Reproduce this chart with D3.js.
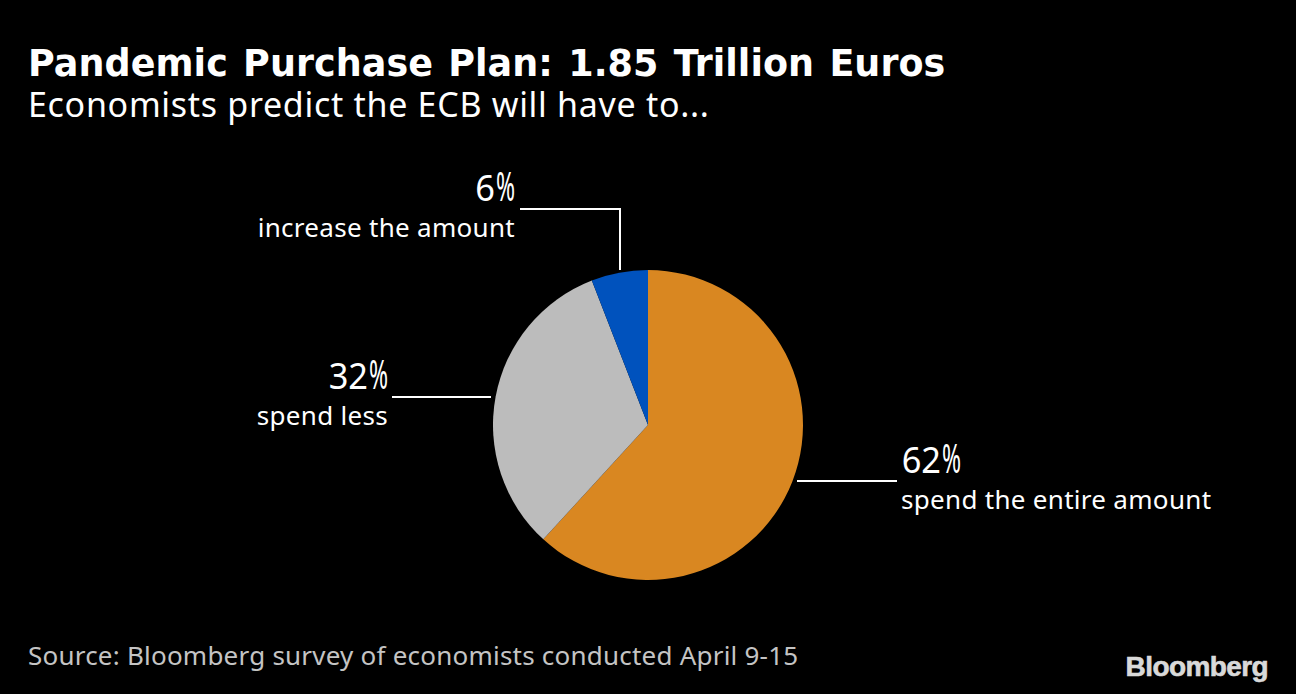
<!doctype html>
<html>
<head>
	<title>Pandemic Purchase Plan</title>
	<script src="https://d3js.org/d3.v7.min.js"></script>
	<style>
	html, body { margin: 0; padding: 0; background: #000; overflow: hidden; }
	text { font-family: "Noto Sans", sans-serif; fill: #fff; }
	.title { font-family: "DejaVu Sans", sans-serif; font-size: 36.5px; font-weight: bold; letter-spacing: 0.05px; word-spacing: 2.5px; }
	.subtitle { font-size: 34px; letter-spacing: 0.7px; }
	.pct { font-size: 37px; }
	.desc { font-size: 26px; letter-spacing: 0.3px; }
	.source { font-size: 26px; letter-spacing: 0.22px; fill: #c4c4c4; }
	.logo { font-size: 28px; font-weight: bold; font-family: "Liberation Sans", sans-serif; fill: #d9d9d9; stroke: #d9d9d9; stroke-width: 0.6px; letter-spacing: -0.6px; }
	.leader { fill: none; stroke: #fff; stroke-width: 2; }
	</style>
</head>
<body>
	<script>

	// chart values, printed labels are rounded
	var labels = ["spend the entire amount", "spend less", "increase the amount"];
	var values = [61.8, 32.3, 5.9];
	var colors = ["#d98721", "#bcbcbc", "#0052bd"];

	var titleText = "Pandemic Purchase Plan: 1.85 Trillion Euros";
	var subtitleText = "Economists predict the ECB will have to...";
	var sourceText = "Source: Bloomberg survey of economists conducted April 9-15";

	var width = 1296;
	var height = 694;
	var cx = 648;
	var cy = 425;
	var radius = 155;

	var svg = d3.select("body").append("svg")
		.attr("width", width)
		.attr("height", height)
		.style("display", "block");

	svg.append("rect").attr("width", width).attr("height", height).attr("fill", "#000");

	// headers
	svg.append("text").attr("class", "title").attr("x", 28).attr("y", 76).text(titleText);
	svg.append("text").attr("class", "subtitle").attr("x", 28).attr("y", 117).text(subtitleText);

	// the pie, clockwise from 12 o'clock in data order
	var pie = d3.pie().sort(null);
	var arc = d3.arc().innerRadius(0).outerRadius(radius);

	svg.append("g")
		.attr("transform", "translate(" + cx + "," + cy + ")")
		.selectAll("path")
		.data(pie(values))
		.enter().append("path")
		.attr("d", arc)
		.attr("fill", function(d, i) { return colors[i]; });

	// label placement, same order as the arrays above
	// pctRight is the right edge of the percent figure
	var labelPos = [
		{x: 901, anchor: "start", pctRight: 961, pctY: 473, descY: 509},
		{x: 388, anchor: "end", pctRight: 388, pctY: 389, descY: 425},
		{x: 515, anchor: "end", pctRight: 515, pctY: 201, descY: 237}
	];

	// the original digits are a bit narrow and its % sign narrow and tall
	var digitScale = 0.93;
	var signScale = "0.62,1.1";
	var signWidth = 20;

	labelPos.forEach(function(p, i) {
		svg.append("text").attr("class", "pct")
			.attr("transform", "translate(" + (p.pctRight - signWidth) + "," + p.pctY + ") scale(" + digitScale + ",1)")
			.attr("text-anchor", "end")
			.text(Math.round(values[i]));
		svg.append("text").attr("class", "pct")
			.attr("transform", "translate(" + p.pctRight + "," + p.pctY + ") scale(" + signScale + ")")
			.attr("text-anchor", "end")
			.text("%");
		svg.append("text").attr("class", "desc")
			.attr("x", p.x).attr("y", p.descY)
			.attr("text-anchor", p.anchor)
			.text(labels[i]);
	});

	// leader lines
	var leaders = [
		[[797, 481], [897, 481]],
		[[392, 397], [491, 397]],
		[[520, 209], [620, 209], [620, 270]]
	];

	var line = d3.line();
	svg.selectAll(".leader")
		.data(leaders)
		.enter().append("path")
		.attr("class", "leader")
		.attr("d", line);

	// footer
	svg.append("text").attr("class", "source").attr("x", 28).attr("y", 665).text(sourceText);
	svg.append("text").attr("class", "logo").attr("x", 1268).attr("y", 676).attr("text-anchor", "end").text("Bloomberg");

	</script>
</body>
</html>
